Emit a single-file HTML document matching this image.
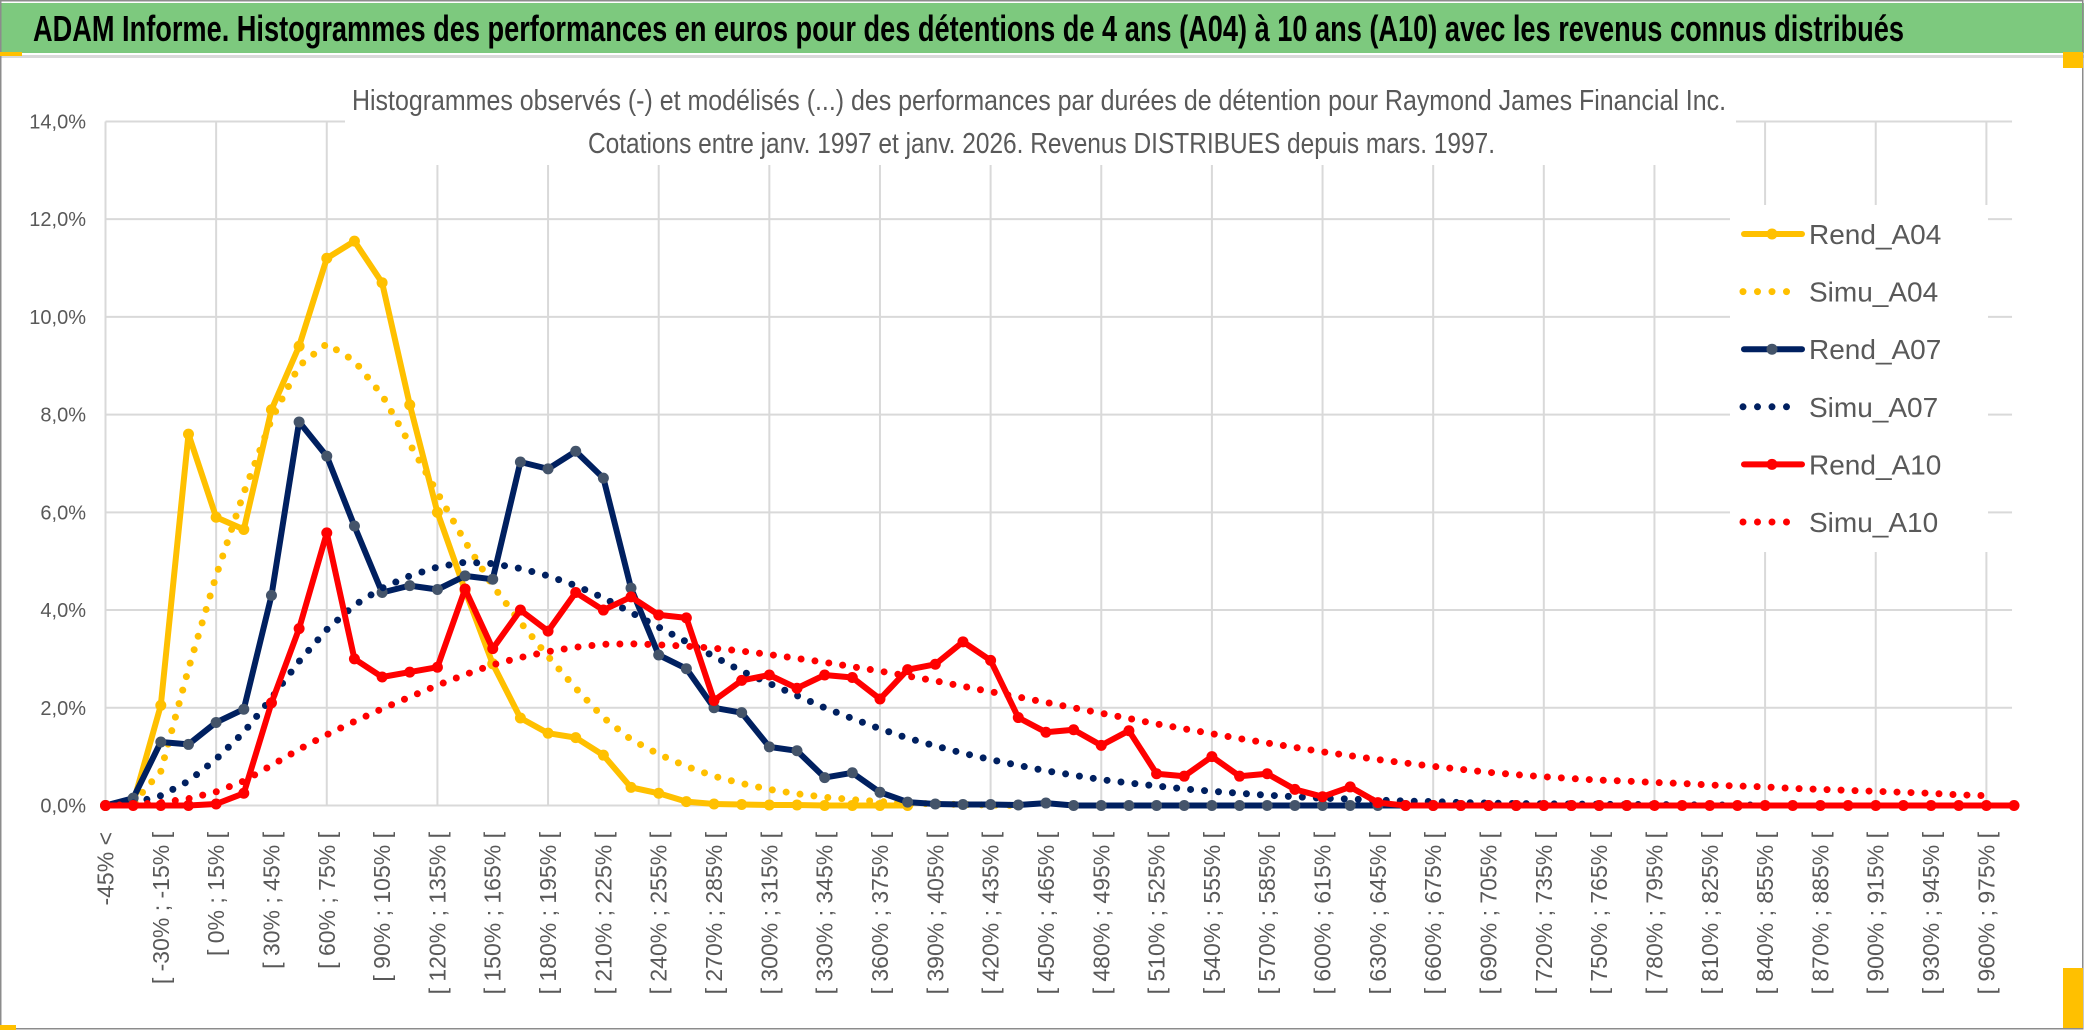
<!DOCTYPE html>
<html><head><meta charset="utf-8">
<style>
html,body{margin:0;padding:0;background:#fff;}
svg{display:block;}
text{font-family:"Liberation Sans Narrow","Liberation Sans",sans-serif;}
</style></head>
<body>
<svg id="chart" width="2086" height="1033" viewBox="0 0 2086 1033" xmlns="http://www.w3.org/2000/svg">
  <rect x="0" y="0" width="2086" height="1033" fill="#fff"/>
  <rect x="0" y="3" width="2084" height="50" fill="#7dc97e"/>
  <rect x="0" y="55" width="2084" height="3" fill="#d9d9d9"/>
  <text x="33" y="41" font-size="36" font-weight="bold" fill="#000" textLength="1871" lengthAdjust="spacingAndGlyphs">ADAM Informe. Histogrammes des performances en euros pour des détentions de 4 ans (A04) à 10 ans (A10) avec les revenus connus distribués</text>
  <g id="grid"></g>
  <g id="yticks"></g>
  <g id="xticks"></g>
  <rect x="345" y="112" width="1391" height="53" fill="#fff"/>
  <text x="352" y="110" font-size="29" fill="#595959" textLength="1374" lengthAdjust="spacingAndGlyphs">Histogrammes observés (-) et modélisés (...) des performances par durées de détention pour Raymond James Financial Inc.</text>
  <text x="588" y="153" font-size="29" fill="#595959" textLength="907" lengthAdjust="spacingAndGlyphs">Cotations entre janv. 1997 et janv. 2026. Revenus DISTRIBUES depuis mars. 1997.</text>
  <g id="series"></g>
  <rect x="1730" y="205" width="258" height="347" fill="#fff"/>
  <g id="legend"></g>
  <rect x="0.75" y="0.75" width="2082" height="1028" fill="none" stroke="#8c8c8c" stroke-width="1.5"/>
  <rect x="0" y="52" width="22" height="4" fill="#ffc000"/>
  <rect x="2063" y="52" width="20" height="16" fill="#ffc000"/>
  <rect x="0" y="1025" width="16" height="5" fill="#ffc000"/>
  <rect x="2063" y="968" width="20" height="60" fill="#ffc000"/>
</svg>
<script>
const yTicks = [0,2,4,6,8,10,12,14];
const rendA04 = [0,0.05,2.05,7.6,5.9,5.65,8.1,9.4,11.2,11.55,10.7,8.2,6.0,4.4,2.9,1.79,1.48,1.39,1.03,0.37,0.25,0.08,0.03,0.02,0.01,0.01,0,0,0,0];
const simuA04 = [0,0.05,0.7,2.8,4.7,6.4,7.9,9.0,9.45,9.1,8.4,7.4,6.4,5.4,4.5,3.75,3.05,2.4,1.8,1.35,1.05,0.8,0.6,0.45,0.33,0.24,0.17,0.12,0.08,0.05,0.03,0.02,0.01,0];
const rendA07 = [0,0.15,1.3,1.25,1.7,1.97,4.3,7.85,7.15,5.72,4.36,4.5,4.42,4.7,4.63,7.03,6.89,7.25,6.7,4.45,3.08,2.8,2.0,1.9,1.2,1.12,0.57,0.67,0.27,0.07,0.03,0.02,0.02,0.01,0.05,0,0,0,0,0,0,0,0,0,0,0,0,0,0,0,0,0,0,0,0,0];
const simuA07 = [0,0.05,0.2,0.5,0.95,1.5,2.2,2.95,3.6,4.1,4.45,4.7,4.88,4.98,4.95,4.85,4.7,4.5,4.25,3.95,3.65,3.35,3.05,2.75,2.5,2.25,2.0,1.78,1.57,1.38,1.22,1.07,0.94,0.82,0.71,0.62,0.53,0.46,0.4,0.34,0.29,0.25,0.21,0.18,0.15,0.13,0.11,0.09,0.08,0.06,0.05,0.04,0.035,0.03,0.025,0.02,0.02,0.015,0.01,0.01,0.01];
const rendA10 = [0,0,0,0,0.03,0.25,2.1,3.62,5.58,3.0,2.63,2.73,2.83,4.43,3.21,4.0,3.57,4.36,4.0,4.27,3.9,3.84,2.15,2.56,2.67,2.4,2.67,2.62,2.18,2.78,2.89,3.35,2.97,1.8,1.5,1.55,1.23,1.53,0.65,0.6,1.0,0.6,0.65,0.33,0.18,0.38,0.06,0,0,0,0,0,0,0,0,0,0,0,0,0,0,0,0,0,0,0,0,0,0,0];
const simuA10 = [0,0.02,0.06,0.14,0.28,0.5,0.82,1.15,1.45,1.72,1.98,2.22,2.46,2.68,2.88,3.03,3.15,3.24,3.3,3.31,3.29,3.26,3.22,3.16,3.09,3.01,2.93,2.84,2.75,2.65,2.55,2.44,2.33,2.22,2.11,2.0,1.89,1.78,1.67,1.57,1.47,1.37,1.28,1.19,1.1,1.02,0.94,0.87,0.8,0.74,0.68,0.63,0.59,0.55,0.52,0.5,0.47,0.45,0.42,0.4,0.38,0.35,0.33,0.31,0.29,0.27,0.25,0.22,0.2];
const nCats = 70;
const catStarts = [];
for (let k = 1; k < nCats; k++) catStarts.push(-45 + 15 * (k - 1));

const NS = 'http://www.w3.org/2000/svg';
const X0 = 105.5, DX = 27.66, Y0 = 805.5, PY = 48.86;
function xs(i){ return X0 + i * DX; }
function ys(v){ return Y0 - v * PY; }
function mk(tag, attrs, parent){
  const e = document.createElementNS(NS, tag);
  for (const k in attrs) e.setAttribute(k, attrs[k]);
  parent.appendChild(e);
  return e;
}
function catLabel(i){
  if (i === 0) return '-45% <';
  const a = catStarts[i - 1];
  return '[ ' + a + '% ; ' + (a + 15) + '% [';
}

const grid = document.getElementById('grid');
yTicks.forEach(t => {
  const l = mk('line', {x1: X0, x2: xs(nCats - 1) - 2, y1: ys(t), y2: ys(t), stroke: '#d9d9d9', 'stroke-width': 2}, grid);
  
  
});
for (let i = 0; i < nCats; i += 4) {
  const l = mk('line', {x1: xs(i), x2: xs(i), y1: ys(14), y2: Y0, stroke: '#d9d9d9', 'stroke-width': 2}, grid);
  
  
}

const yt = document.getElementById('yticks');
yTicks.forEach(t => {
  const tx = mk('text', {x: 86, y: ys(t) + 7, 'font-size': 20, fill: '#595959', 'text-anchor': 'end'}, yt);
  tx.textContent = t.toFixed(1).replace('.', ',') + '%';
  
  
});

const xt = document.getElementById('xticks');
for (let i = 0; i < nCats; i += 2) {
  const x = xs(i) + 8, y = 832;
  const tx = mk('text', {x: x, y: y, 'font-size': 23, fill: '#595959', 'text-anchor': 'end', transform: 'rotate(-90 ' + x + ' ' + y + ')', style: 'font-family:"Liberation Sans",sans-serif'}, xt);
  tx.textContent = catLabel(i);
  
  
}

const sg = document.getElementById('series');
function pts(arr){ return arr.map((v, i) => xs(i).toFixed(1) + ',' + ys(v).toFixed(1)).join(' '); }
function solid(arr, color, mcolor, name){
  const g = mk('g', {}, sg);
  
  
  mk('polyline', {points: pts(arr), fill: 'none', stroke: color, 'stroke-width': 6, 'stroke-linejoin': 'round', 'stroke-linecap': 'round'}, g);
  arr.forEach((v, i) => {
    const c = mk('circle', {cx: xs(i), cy: ys(v), r: 5.5, fill: mcolor}, g);
    
    
  });
}
function dotted(arr, color, name){
  const p = mk('polyline', {points: pts(arr), fill: 'none', stroke: color, 'stroke-width': 7, 'stroke-dasharray': '0 14', 'stroke-linecap': 'round', 'stroke-linejoin': 'round'}, sg);
  
  
}
solid(rendA04, '#ffc000', '#ffc000', 'rend-a04-line');
dotted(simuA04, '#ffc000', 'simu-a04-line');
solid(rendA07, '#002060', '#44546a', 'rend-a07-line');
dotted(simuA07, '#002060', 'simu-a07-line');
solid(rendA10, '#ff0000', '#ff0000', 'rend-a10-line');
dotted(simuA10, '#ff0000', 'simu-a10-line');

const lg = document.getElementById('legend');
const legendItems = [
  ['Rend_A04', '#ffc000', '#ffc000', false],
  ['Simu_A04', '#ffc000', null, true],
  ['Rend_A07', '#002060', '#44546a', false],
  ['Simu_A07', '#002060', null, true],
  ['Rend_A10', '#ff0000', '#ff0000', false],
  ['Simu_A10', '#ff0000', null, true]
];
legendItems.forEach((it, k) => {
  const y = 234 + k * 57.6;
  const g = mk('g', {}, lg);
  
  
  if (it[3]) {
    mk('line', {x1: 1743, x2: 1796, y1: y, y2: y, stroke: it[1], 'stroke-width': 7, 'stroke-dasharray': '0 14.5', 'stroke-linecap': 'round'}, g);
  } else {
    mk('line', {x1: 1744, x2: 1802, y1: y, y2: y, stroke: it[1], 'stroke-width': 6, 'stroke-linecap': 'round'}, g);
    mk('circle', {cx: 1772, cy: y, r: 5.5, fill: it[2]}, g);
  }
  const t = mk('text', {x: 1809, y: y + 10, 'font-size': 28, fill: '#595959'}, g);
  t.textContent = it[0];
});
</script>
</body></html>
